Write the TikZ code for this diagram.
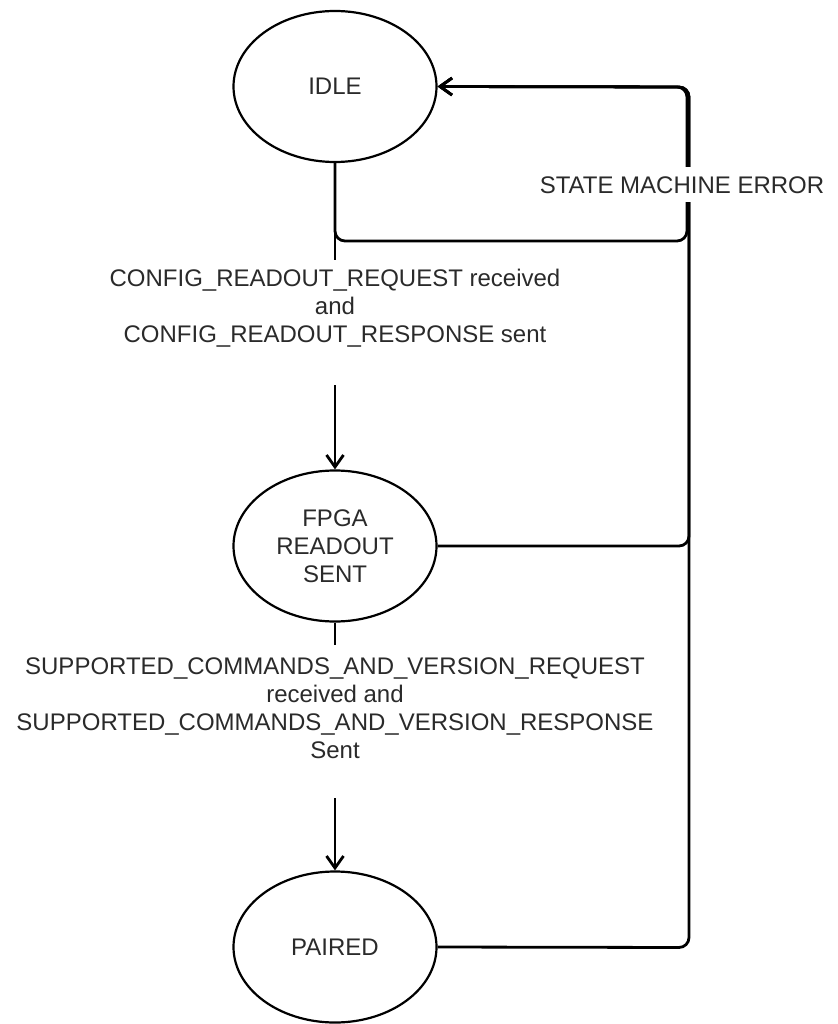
\documentclass[tikz,border=0pt]{standalone}
\usepackage{fontspec}
\setmainfont{Liberation Sans}
\usetikzlibrary{shapes.geometric,arrows.meta}
\definecolor{txt}{HTML}{2A2A2A}
\tikzset{
  lbl/.style={font=\fontsize{24}{28}\selectfont, text=txt, align=center, inner sep=0pt},
  state/.style={ellipse, draw=black, line width=2.2pt, minimum width=203pt,
                minimum height=151pt, inner sep=0pt, lbl},
  edge/.style={draw=black, line width=2.8pt, line join=round},
  arr/.style={edge, -{Straight Barb[length=12pt,width=17pt,line width=2.8pt]}},
}
\begin{document}
\begin{tikzpicture}[x=1pt,y=-1pt]
\useasboundingbox (0,0) rectangle (837,1024);

% states
\node[state] (idle)   at (335,86.5) {IDLE};
\node[state] (fpga)   at (335,546)  {FPGA\\READOUT\\SENT};
\node[state] (paired) at (335,947)  {PAIRED};

% IDLE -> FPGA READOUT SENT
\coordinate (a1) at (335,260);
\coordinate (a2) at (335,385);
\draw[edge] (idle.south) -- (a1);
\node[lbl] (la) at (335,308) {CONFIG\_READOUT\_REQUEST received\\and\\CONFIG\_READOUT\_RESPONSE sent};
\draw[arr] (a2) -- (fpga.north);

% FPGA READOUT SENT -> PAIRED
\coordinate (b1) at (335,645);
\coordinate (b2) at (335,798);
\draw[edge] (fpga.south) -- (b1);
\node[lbl] (lb) at (335,708.5) {SUPPORTED\_COMMANDS\_AND\_VERSION\_REQUEST\\received and\\SUPPORTED\_COMMANDS\_AND\_VERSION\_RESPONSE\\Sent};
\draw[arr] (b2) -- (paired.north);

% error transitions back to IDLE
\coordinate (loopbl) at (335,241);
\coordinate (loopbr) at (687,241);
\coordinate (looptr) at (687,87);
\coordinate (errfpga) at (689,546);
\coordinate (errpaired) at (689,947.5);
\coordinate (errtop) at (689,87);
\draw[arr, rounded corners=10pt] (idle.south) -- (loopbl) -- (loopbr) -- (looptr) -- (idle.east);
\draw[arr, rounded corners=10pt] (fpga.east) -- (errfpga) -- (errtop) -- (idle.east);
\draw[arr, rounded corners=10pt] (paired.east) -- (errpaired) -- (errtop) -- (idle.east);

\node[lbl, fill=white, minimum height=35pt, inner xsep=1pt] (lerr) at (682,185) {STATE MACHINE ERROR};
\end{tikzpicture}
\end{document}
